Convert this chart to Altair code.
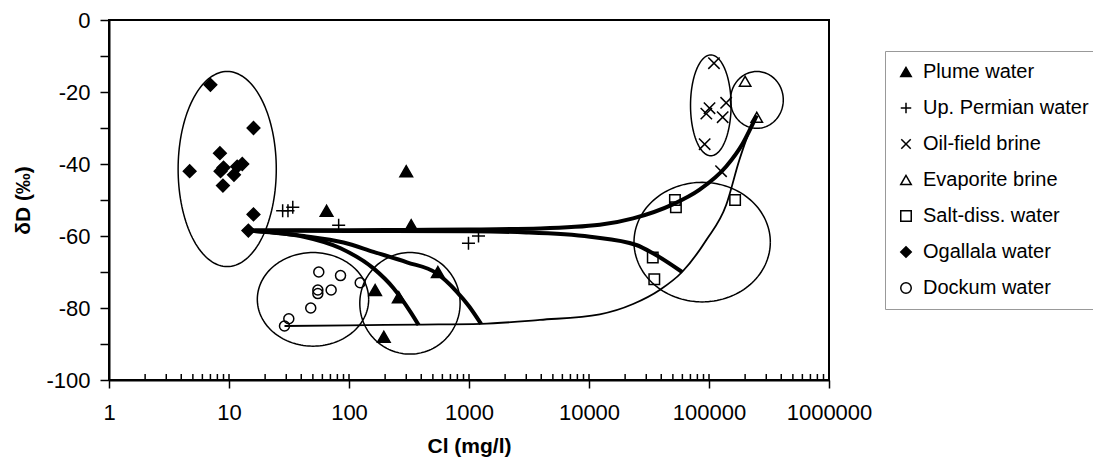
import altair as alt
import pandas as pd
import numpy as np

# ---------------- data ----------------
types = ["Plume water", "Up. Permian water", "Oil-field brine", "Evaporite brine",
         "Salt-diss. water", "Ogallala water", "Dockum water"]

plume_cl = [65, 300, 330, 165, 260, 195, 550]
plume_dD = [-53, -42, -57, -75, -77, -88, -70]

permian_cl = [28, 31, 34, 82, 990, 1200]
permian_dD = [-53, -53, -52, -57, -62, -60]

oil_cl = [110000, 101000, 95000, 139000, 130000, 92000, 126000]
oil_dD = [-12, -24.5, -26, -23, -27, -34.5, -42]

evap_cl = [200000, 250000]
evap_dD = [-17, -27]

salt_cl = [52000, 53000, 165000, 34000, 35000]
salt_dD = [-50, -52, -50, -66, -72]

ogallala_cl = [7, 16, 8.4, 4.7, 9, 8.5, 11, 12.9, 11.7, 8.9, 16, 14.5]
ogallala_dD = [-18, -30, -37, -42, -41, -42, -43, -40, -40.7, -46, -54, -58.5]

dockum_cl = [56, 85, 124, 55, 55, 71, 48, 31.5, 29]
dockum_dD = [-70, -71, -73, -75, -76, -75, -80, -83, -85]

# mixing curves (thick)
curveA_cl = [14.5, 40, 100, 300, 1000, 3900, 12300, 23300, 50000, 83000, 139000, 191000, 250000]
curveA_dD = [-58.5, -58.4, -58.4, -58.3, -58.2, -57.9, -56.9, -55.1, -51.2, -47.2, -40.7, -34.3, -26.5]

curveD_cl = [14.5, 100, 1000, 3000, 10200, 24800, 34100, 59700]
curveD_dD = [-58.5, -58.6, -58.7, -59.0, -60.2, -62.5, -64.8, -70]

curveB_cl = [14.5, 42, 90, 160, 304, 540, 792, 1000, 1260]
curveB_dD = [-58.5, -60, -61.8, -64.4, -67.3, -70.4, -75.5, -79.5, -84.4]

curveC_cl = [14.5, 42, 85, 160, 235, 324, 380]
curveC_dD = [-58.5, -60.2, -63.4, -69, -74.5, -81, -84.7]

# mixing curve (thin)
curveE_cl = [29, 100, 380, 1260, 3900, 12300, 23300, 38800, 59700, 95000, 139000, 179000, 204000, 247000]
curveE_dD = [-85, -84.8, -84.6, -84.4, -83.3, -81.75, -78.9, -75, -70, -61.1, -51.4, -38.9, -33.3, -26.7]

# field ellipses: centre (log10 Cl), half-width (log10), centre dD, half-height
ell_names = ["Ogallala", "Dockum", "Plume", "Salt", "Oil", "Evap"]
ell_cx = [0.985, 1.700, 2.508, 4.943, 5.015, 5.399]
ell_rx = [0.409, 0.464, 0.418, 0.568, 0.169, 0.220]
ell_cy = [-41.4, -77.6, -78.7, -61.7, -23.7, -22.2]
ell_ry = [27.1, 13.0, 14.1, 16.6, 14.0, 7.9]

# marker styles per group
shapes = ["triangle-up", "M-1,0L1,0M0,-1L0,1", "M-0.9,-0.9L0.9,0.9M0.9,-0.9L-0.9,0.9",
          "triangle-up", "square", "diamond", "circle"]
fills = ["black", "transparent", "transparent", "transparent", "transparent", "black", "transparent"]
strokes = ["black"] * 7
sizes = [160, 170, 160, 130, 110, 160, 100]

# ---------------- tables ----------------
rows = []
for t, sz, cls, ds in zip(types, sizes,
                          [plume_cl, permian_cl, oil_cl, evap_cl, salt_cl, ogallala_cl, dockum_cl],
                          [plume_dD, permian_dD, oil_dD, evap_dD, salt_dD, ogallala_dD, dockum_dD]):
    for c, d in zip(cls, ds):
        rows.append({"type": t, "cl": c, "dD": d, "sz": sz})
pts = pd.DataFrame(rows)

thick_rows = []
for cid, cls, ds in [("A", curveA_cl, curveA_dD), ("D", curveD_cl, curveD_dD),
                     ("B", curveB_cl, curveB_dD), ("C", curveC_cl, curveC_dD)]:
    for i, (c, d) in enumerate(zip(cls, ds)):
        thick_rows.append({"cid": cid, "i": i, "cl": c, "dD": d})
thick = pd.DataFrame(thick_rows)

thin = pd.DataFrame({"cid": "E", "i": range(len(curveE_cl)), "cl": curveE_cl, "dD": curveE_dD})

tt = np.linspace(0, 2 * np.pi, 145)
ell_rows = []
for n, cx, rx, cy, ry in zip(ell_names, ell_cx, ell_rx, ell_cy, ell_ry):
    for i, a in enumerate(tt):
        ell_rows.append({"eid": n, "i": i, "cl": 10 ** (cx + rx * np.cos(a)), "dD": cy + ry * np.sin(a)})
ells = pd.DataFrame(ell_rows)

major_vals = [1, 10, 100, 1000, 10000, 100000, 1000000]
minor_vals = [m * 10 ** k for k in range(6) for m in range(2, 10)]
ticks_major = pd.DataFrame({"cl": major_vals, "dD": -100})
ticks_minor = pd.DataFrame({"cl": minor_vals, "dD": -100})

# ---------------- encodings ----------------
FONT = "Liberation Sans"
x_enc = alt.X("cl:Q", scale=alt.Scale(type="log", domain=[1, 1000000]),
              axis=alt.Axis(values=major_vals, format="d", tickSize=8, tickWidth=1.5,
                            domainWidth=2, domainColor="black", tickColor="black",
                            labelFontSize=22, labelPadding=14, labelColor="black",
                            labelFlush=False, grid=False,
                            title="Cl (mg/l)", titleFontSize=21, titleFontWeight="bold",
                            titleY=66, titleBaseline="middle", titleColor="black"))
y_enc = alt.Y("dD:Q", scale=alt.Scale(domain=[-100, 0], nice=False),
              axis=alt.Axis(values=list(range(-100, 1, 10)),
                            labelExpr="datum.value % 20 == 0 ? '' + datum.value : ''",
                            tickSize=9, tickWidth=1.5, domainWidth=2, domainColor="black",
                            tickColor="black", labelFontSize=22, labelPadding=10,
                            labelColor="black", grid=False,
                            title="\u03b4D (\u2030)", titleFontSize=21, titleFontWeight="bold",
                            titleX=-86, titleY=180, titleBaseline="middle", titleColor="black"))

ell_layer = alt.Chart(ells).mark_line(color="black", strokeWidth=1.5).encode(
    x=x_enc, y=y_enc, detail="eid:N", order="i:Q")

thin_layer = alt.Chart(thin).mark_line(color="black", strokeWidth=1.8, interpolate="monotone").encode(
    x=x_enc, y=y_enc, detail="cid:N", order="i:Q")

thick_layer = alt.Chart(thick).mark_line(color="black", strokeWidth=4, interpolate="monotone").encode(
    x=x_enc, y=y_enc, detail="cid:N", order="i:Q")

minor_layer = alt.Chart(ticks_minor).mark_rule(color="black", strokeWidth=1.5).encode(
    x=x_enc, y=y_enc, y2=alt.value(354))
major_layer = alt.Chart(ticks_major).mark_rule(color="black", strokeWidth=1.5).encode(
    x=x_enc, y=y_enc, y2=alt.value(354))

legend = alt.Legend(title=None, orient="none", legendX=776, legendY=31, padding=11,
                    strokeColor="#999999", fillColor="white", labelFontSize=20,
                    labelColor="black", labelOffset=7, rowPadding=16, symbolSize=110,
                    symbolStrokeWidth=1.5, labelLimit=400, labelFont=FONT)

pt_layer = alt.Chart(pts).mark_point(strokeWidth=1.5, opacity=1, fillOpacity=1, strokeOpacity=1).encode(
    x=x_enc, y=y_enc,
    shape=alt.Shape("type:N", scale=alt.Scale(domain=types, range=shapes), legend=legend, sort=types),
    fill=alt.Fill("type:N", scale=alt.Scale(domain=types, range=fills), legend=legend, sort=types),
    stroke=alt.Stroke("type:N", scale=alt.Scale(domain=types, range=strokes), legend=legend, sort=types),
    size=alt.Size("sz:Q", scale=None),
)

chart = alt.layer(ell_layer, thin_layer, thick_layer, minor_layer, major_layer, pt_layer).properties(
    width=720, height=360,
    autosize=alt.AutoSizeParams(type="none"),
    padding={"left": 109, "top": 20, "right": 264, "bottom": 85},
    background="white",
).configure(font=FONT).configure_view(stroke="black", strokeWidth=2)

chart.save("out.html", embed_options={"renderer": "svg", "actions": False})
